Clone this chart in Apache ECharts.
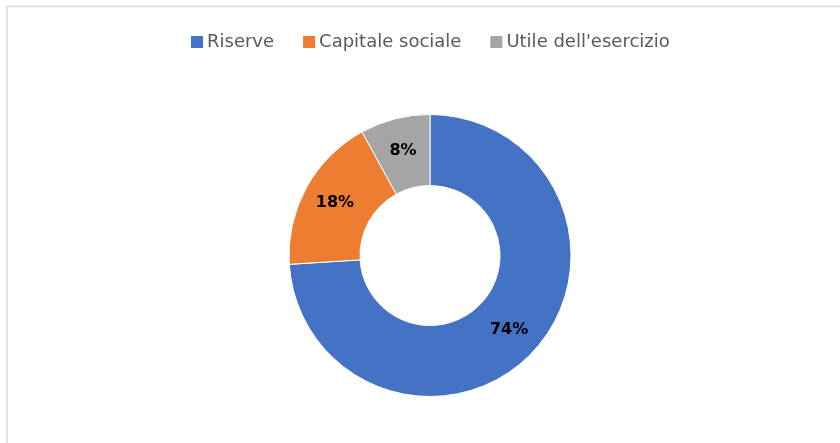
<!DOCTYPE html>
<html>
<head>
<meta charset="utf-8">
<script src="https://cdn.jsdelivr.net/npm/echarts@6/dist/echarts.min.js"></script>
<style>
  html, body { margin: 0; padding: 0; background: #fff; }
  #chart { width: 840px; height: 443px; }
</style>
</head>
<body>
<div id="chart"></div>
<script>
'use strict';

// dati del grafico
var categories = ['Riserve', 'Capitale sociale', "Utile dell'esercizio"];
var values = [74, 18, 8];
var colors = ['#4472C4', '#ED7D31', '#A5A5A5'];

var chart = echarts.init(document.getElementById('chart'));

var option = {
    animation: false,
    color: colors,
    textStyle: { fontFamily: 'DejaVu Sans' },
    graphic: [
        {
            type: 'rect',
            shape: { x: 7, y: 6.5, width: 860, height: 460 },
            style: { fill: 'none', stroke: '#d9d9d9', lineWidth: 1.5 },
            silent: true
        }
    ],
    legend: {
        top: 33,
        left: 191,
        padding: 0,
        itemWidth: 12,
        itemHeight: 12,
        itemGap: 29,
        icon: 'rect',
        itemStyle: { borderWidth: 0 },
        textStyle: { fontSize: 18, color: '#595959', fontFamily: 'DejaVu Sans', padding: [0, 0, 0, -1] },
        data: categories
    },
    series: [
        {
            type: 'pie',
            center: [430, 255.5],
            radius: [70, 141],
            startAngle: 90,
            clockwise: true,
            itemStyle: { borderColor: '#fff', borderWidth: 1 },
            label: {
                position: 'inside',
                formatter: '{d}%',
                color: '#000',
                fontWeight: 'bold',
                fontSize: 16,
                fontFamily: 'DejaVu Sans'
            },
            labelLine: { show: false },
            emphasis: { disabled: true },
            data: categories.map(function (name, i) {
                return { name: name, value: values[i] };
            })
        }
    ]
};
chart.setOption(option);
</script>
</body>
</html>
